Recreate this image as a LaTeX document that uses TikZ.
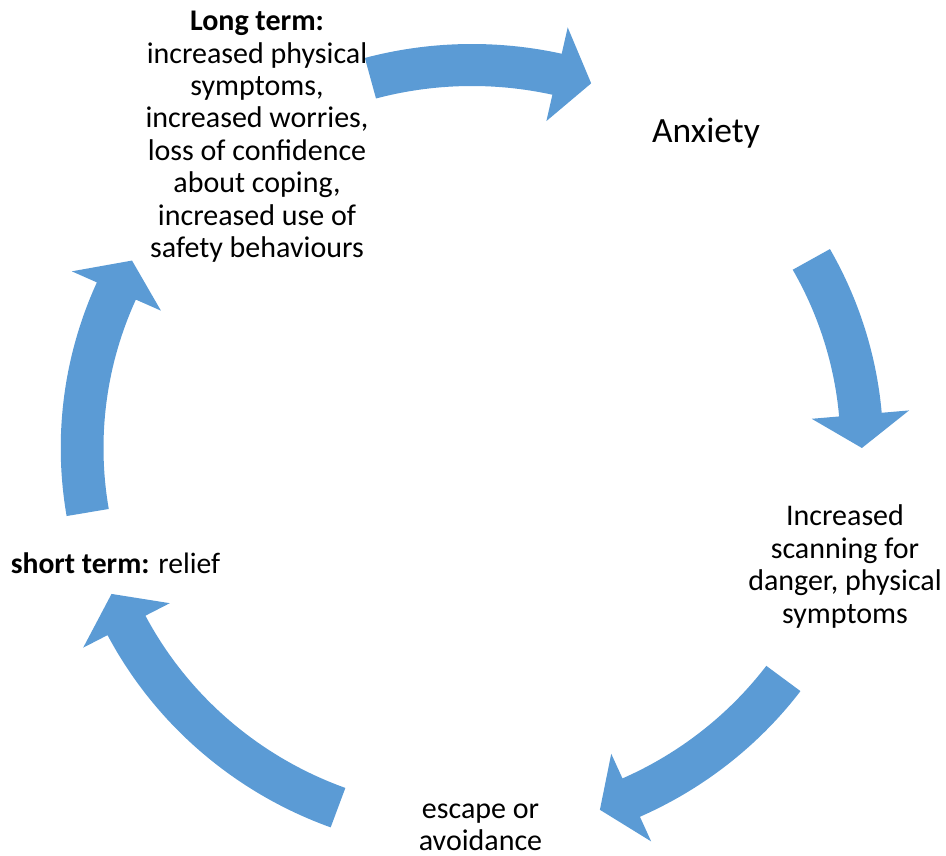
\documentclass[tikz,border=0pt]{standalone}
\usepackage{fontspec}
\setmainfont{Carlito}
\definecolor{cyclefill}{HTML}{5B9BD5}
% curved block arrow running clockwise around the cycle:
% #1 tail angle, #2 angle where the head starts, #3 tip angle
\newcommand{\cyclearrow}[3]{%
  \fill[cyclefill] (#1:404) arc[start angle=#1, end angle=#2, radius=404]
    -- (#2:431) -- (#3:383) -- (#2:335) -- (#2:362)
    arc[start angle=#2, end angle=#1, radius=362] -- cycle;}
\begin{document}
\begin{tikzpicture}[x=1pt, y=1pt,
  lbl/.style={inner sep=0pt, align=center, text=black,
    font=\fontsize{30}{32.4}\selectfont},
  biglbl/.style={inner sep=0pt, text=black,
    font=\fontsize{35.5}{40}\selectfont}]
\useasboundingbox (0,0) rectangle (946,856);

% the five arrows of the cycle
\begin{scope}[shift={(472,408)}, xscale=1.018]
  \cyclearrow{105.1}{77.4}{72.2}
  \cyclearrow{29.5}{5.0}{0.0}
  \cyclearrow{-37.0}{-65.9}{-70.85}
  \cyclearrow{249.9}{207.6}{202.4}
  \cyclearrow{189.7}{155.8}{150.7}
\end{scope}

% stages (anchored at the baseline of their last line)
\node[biglbl, anchor=base] (anxiety) at (706,713.7) {Anxiety};
\node[lbl, anchor=base] (scanning) at (845,232.8)
  {Increased\\scanning for\\danger, physical\\symptoms};
\node[lbl, anchor=base] (escape) at (480.5,5) {escape or\\avoidance};
\node[lbl, anchor=base, font=\fontsize{29.6}{32.4}\selectfont] (relief)
  at (115.5,282) {\textbf{short term:} relief};
\node[lbl, anchor=base] (longterm) at (257,598.5)
  {\textbf{Long term:}\\increased physical\\symptoms,\\increased worries,\\loss of confidence\\about coping,\\increased use of\\safety behaviours};
\end{tikzpicture}
\end{document}
